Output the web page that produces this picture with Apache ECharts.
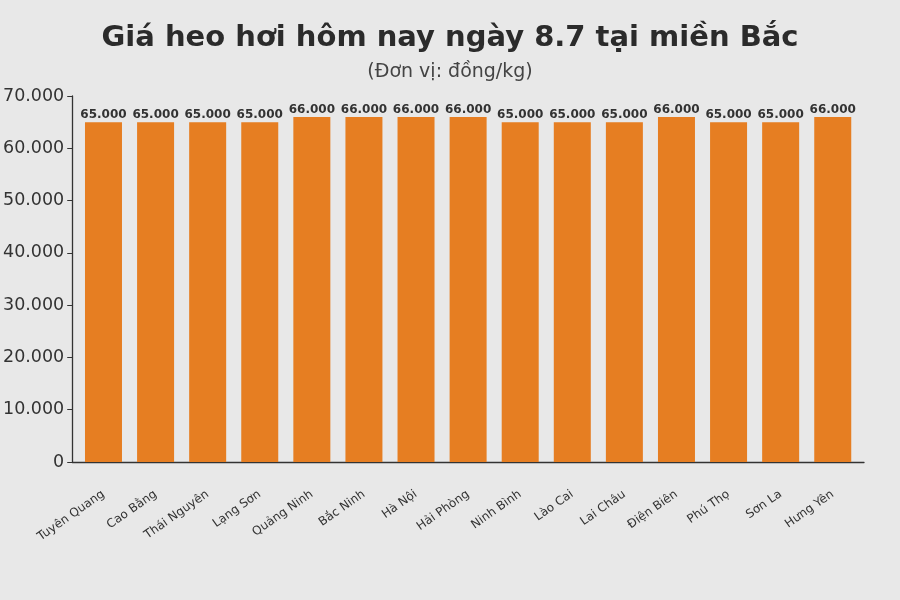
<!DOCTYPE html>
<html><head><meta charset="utf-8">
<script src="https://cdn.jsdelivr.net/npm/echarts@6/dist/echarts.min.js"></script>
<style>html,body{margin:0;padding:0;background:#E8E8E8;}#c{width:900px;height:600px;}</style>
</head><body><div id="c"></div>
<script>
const categories = ["Tuyên Quang","Cao Bằng","Thái Nguyên","Lạng Sơn","Quảng Ninh","Bắc Ninh","Hà Nội","Hải Phòng","Ninh Bình","Lào Cai","Lai Châu","Điện Biên","Phú Thọ","Sơn La","Hưng Yên"];
const prices = [65000,65000,65000,65000,66000,66000,66000,66000,65000,65000,65000,66000,65000,65000,66000];
const yTicks = [0,10000,20000,30000,40000,50000,60000,70000];
const fmt = v => String(v).replace(/\B(?=(\d{3})+(?!\d))/g, '.');
const font = 'DejaVu Sans';
const chart = echarts.init(document.getElementById('c'), null, {renderer:'canvas'});
chart.setOption({
  backgroundColor:'#E8E8E8',
  animation:false,
  title:[
    {text:'Giá heo hơi hôm nay ngày 8.7 tại miền Bắc', left:'center', top:19,
     textStyle:{fontFamily:font, fontSize:29, fontWeight:'bold', color:'#2b2b2b'}},
    {text:'(Đơn vị: đồng/kg)', left:'center', top:58,
     textStyle:{fontFamily:font, fontSize:19, fontWeight:'normal', color:'#444'}}
  ],
  grid:{left:72, right:36, top:96, bottom:138, containLabel:false},
  xAxis:{
    type:'value', min:-0.6, max:14.6,
    splitLine:{show:false},
    axisLine:{show:true, onZero:false, lineStyle:{color:'#333', width:1.3}},
    axisTick:{show:false},
    axisLabel:{
      customValues: categories.map((c,i)=>i),
      formatter: v => categories[Math.round(v)] || '',
      rotate:35, fontFamily:font, fontSize:12, color:'#333', margin:31,
      showMinLabel:true, showMaxLabel:true
    }
  },
  yAxis:{
    type:'value', min:0, max:70000, interval:10000,
    splitLine:{show:false},
    axisLine:{show:true, onZero:false, lineStyle:{color:'#333', width:1.3}},
    axisTick:{show:true, length:5, lineStyle:{color:'#333'}},
    axisLabel:{formatter: v => yTicks.includes(v) ? fmt(v) : '', fontFamily:font, fontSize:17.5, color:'#333', margin:8}
  },
  series:[{
    type:'bar',
    data: prices.map((v,i)=>[i,v]),
    barWidth:37,
    itemStyle:{color:'#E67E22'},
    label:{show:true, position:'top', distance:1, formatter: p => fmt(p.value[1]),
      fontFamily:font, fontSize:12, fontWeight:'bold', color:'#333'}
  }]
});
</script></body></html>
